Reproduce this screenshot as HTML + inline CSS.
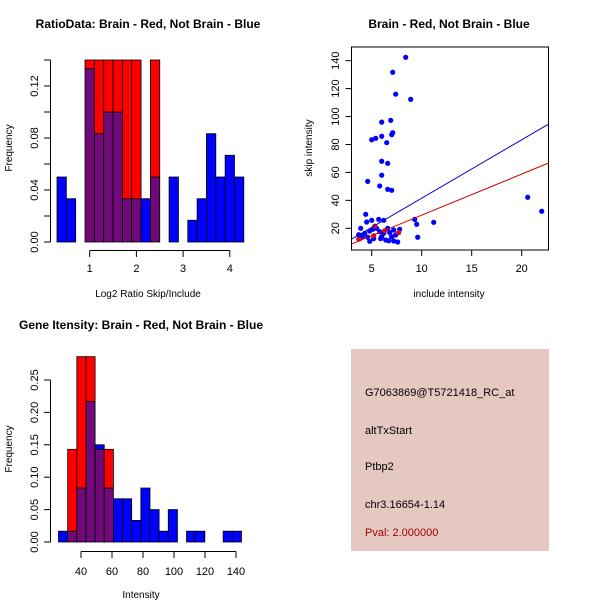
<!DOCTYPE html>
<html><head><meta charset="utf-8">
<style>
html,body{margin:0;padding:0;background:#fff;}
svg{display:block;font-family:"Liberation Sans",Arial,sans-serif;}
</style></head>
<body>
<svg id="c" width="600" height="600" viewBox="0 0 600 600">
<rect x="351" y="349" width="198" height="202" fill="#e6c8c2"/>
<text x="365" y="396" font-size="11">G7063869@T5721418_RC_at</text>
<text x="365" y="434" font-size="11">altTxStart</text>
<text x="365" y="470" font-size="11">Ptbp2</text>
<text x="365" y="508" font-size="11">chr3.16654-1.14</text>
<text x="365" y="536" font-size="11" fill="#a00000">Pval: 2.000000</text>
</svg>
<script>
// ---- Panel 1: ratio histogram ----
const ratioBreakStart = 0.3, ratioBinWidth = 0.2;
const ratioBlue = [0.05,0.0333,0,0.1333,0.0833,0.1,0.1,0.0333,0.0333,0.0333,0.05,0,0.05,0,0.0167,0.0333,0.0833,0.05,0.0667,0.05];
const ratioRed  = [0,0,0,0.143,0.143,0.143,0.143,0.143,0.143,0,0.143,0,0,0,0,0,0,0,0,0];
const ratioYTicks = [0,0.02,0.04,0.06,0.08,0.10,0.12,0.14];
const ratioYLabels = ["0.00","0.04","0.08","0.12"];
const ratioXTicks = [1,2,3,4];
// ---- Panel 2: scatter ----
const includeBlue = [8.4,7.1,7.4,8.9,6.0,6.9,5.0,5.4,6.0,6.5,7.1,7.0,6.0,6.6,6.0,4.6,5.8,6.6,7.0,4.4,4.5,5.0,5.7,6.2,3.9,3.7,4.1,4.8,5.1,5.5,5.8,6.2,6.6,6.8,7.2,7.8,9.3,9.5,11.2,9.6,4.6,4.8,5.2,5.9,6.4,6.7,7.2,7.6,3.8,4.3,6.0,7.0,7.4,20.6,22.0];
const skipBlue = [142.4,131.7,116,112.3,96,97.3,83.4,84.4,85.9,81.3,88.4,87,68,66.5,58,53.6,50.3,47.9,47.2,30,24.5,25.7,26.4,25.7,20,15.4,14.5,18,19.3,20,17.6,16.4,20,16.9,18.8,19.3,26.4,22.9,24.3,13.6,13.6,10.7,12.6,12.6,11.6,11.1,10.9,10.2,12.6,16.4,14,14,15.2,42.2,32.2];
const includeRed = [3.7,5.3,6.3,7.7,5.2];
const skipRed = [12.3,21.6,18.3,16.9,14.7];
const fitBlue = [-0.24,4.18]; // intercept, slope
const fitRed = [0.0,2.94];
const scatXTicks = [5,10,15,20];
const scatYTicks = [20,40,60,80,100,120,140];
// ---- Panel 3: intensity histogram ----
const intBreakStart = 25.5, intBinWidth = 5.9;
const intBlue = [0.0167,0.0167,0.0833,0.2167,0.15,0.0833,0.0667,0.0667,0.0333,0.0833,0.05,0.0167,0.05,0,0.0167,0.0167,0,0,0.0167,0.0167];
const intRed  = [0,0.143,0.286,0.286,0.143,0.143,0,0,0,0,0,0,0,0,0,0,0,0,0,0];
const intYTicks = [0,0.05,0.10,0.15,0.20,0.25];
const intYLabels = ["0.00","0.05","0.10","0.15","0.20","0.25"];
const intXTicks = [40,60,80,100,120,140];

const svg = document.getElementById('c');
const NS = 'http://www.w3.org/2000/svg';
function mk(tag, attrs, parent){const e=document.createElementNS(NS,tag);for(const k in attrs)e.setAttribute(k,attrs[k]);(parent||svg).appendChild(e);return e;}
function txt(x,y,s,size,opts){const e=mk('text',Object.assign({x:x,y:y,'font-size':size,'text-anchor':'middle'},opts||{}));e.textContent=s;return e;}
const RED='#ff0000', BLUE='#0000ff', PURP='#700a78';

function hist(xs, ys, start, w, blue, red, yMaxClip, prefix){
  const clipTop = ys(yMaxClip);
  for(let i=0;i<blue.length;i++){
    const x0=xs(start+i*w), x1=xs(start+(i+1)*w);
    const b=blue[i], r=red[i];
    const parts=[];
    const lo=Math.min(b,r), hi=Math.max(b,r);
    if(lo>0) parts.push([0,lo,PURP]);
    if(hi>lo) parts.push([lo,hi,b>r?BLUE:RED]);
    for(const p of parts){
      const yt=Math.max(ys(p[1]),clipTop), yb=ys(p[0]);
      const e=mk('rect',{x:x0,y:yt,width:x1-x0,height:yb-yt,fill:p[2],stroke:'#000','stroke-width':0.8});
      
      
    }
  }
}

// Panel 1
{
  const xs=v=>89.7+(v-1)*46.7, ys=v=>242-v*1300;
  hist(xs,ys,ratioBreakStart,ratioBinWidth,ratioBlue,ratioRed,0.14,'ratio');
  mk('line',{x1:50.5,x2:50.5,y1:ys(0),y2:ys(0.14),stroke:'#000'});
  ratioYTicks.forEach(t=>mk('line',{x1:44,x2:50.5,y1:ys(t),y2:ys(t),stroke:'#000'}));
  ratioYLabels.forEach(l=>{const y=ys(parseFloat(l));const e=txt(38,y,l,11,{transform:`rotate(-90 38 ${y})`});});
  mk('line',{x1:xs(1),x2:xs(4),y1:250.5,y2:250.5,stroke:'#000'});
  ratioXTicks.forEach(t=>{mk('line',{x1:xs(t),x2:xs(t),y1:250.5,y2:257,stroke:'#000'});const e=txt(xs(t),272,String(t),11);});
  let e=txt(148,28,'RatioData: Brain - Red, Not Brain - Blue',12,{'font-weight':'bold'});
  e=txt(148,297,'Log2 Ratio Skip/Include',10);
  e=txt(12,148,'Frequency',10,{transform:'rotate(-90 12 148)'});
}
// Panel 2
{
  const xs=v=>371.7+(v-5)*10, ys=v=>228.3-(v-20)*1.397;
  const L=351.5,R=548.5,T=47,B=250;
  const cp=mk('clipPath',{id:'sc'});mk('rect',{x:L,y:T,width:R-L,height:B-T},cp);
  includeBlue.forEach((v,i)=>{const c=mk('circle',{cx:xs(v),cy:ys(skipBlue[i]),r:2.6,fill:BLUE});});
  includeRed.forEach((v,i)=>{const c=mk('circle',{cx:xs(v),cy:ys(skipRed[i]),r:2.6,fill:'#d01020'});});
  [[fitBlue,'#0000cc','fit-line-not-brain'],[fitRed,'#cc0000','fit-line-brain']].forEach(f=>{
    const x0=3,x1=22.7;
    const l=mk('line',{x1:xs(x0),y1:ys(f[0][0]+f[0][1]*x0),x2:xs(x1),y2:ys(f[0][0]+f[0][1]*x1),stroke:f[1],'stroke-width':1,'clip-path':'url(#sc)'});
    
  });
  const box=mk('rect',{x:L,y:T,width:R-L,height:B-T,fill:'none',stroke:'#000'});
  scatXTicks.forEach(t=>{mk('line',{x1:xs(t),x2:xs(t),y1:B,y2:B+6,stroke:'#000'});const e=txt(xs(t),272,String(t),11);});
  scatYTicks.forEach(t=>{mk('line',{x1:L-6,x2:L,y1:ys(t),y2:ys(t),stroke:'#000'});const y=ys(t);const e=txt(339,y,String(t),11,{transform:`rotate(-90 339 ${y})`});});
  let e=txt(449,28,'Brain - Red, Not Brain - Blue',12,{'font-weight':'bold'});
  e=txt(449,297,'include intensity',10);
  e=txt(312,148,'skip intensity',10,{transform:'rotate(-90 312 148)'});
}
// Panel 3
{
  const xs=v=>81+(v-40)*1.55, ys=v=>542-v*648;
  hist(xs,ys,intBreakStart,intBinWidth,intBlue,intRed,0.3,'intensity');
  mk('line',{x1:50.5,x2:50.5,y1:ys(0),y2:ys(0.25),stroke:'#000'});
  intYTicks.forEach(t=>mk('line',{x1:44,x2:50.5,y1:ys(t),y2:ys(t),stroke:'#000'}));
  intYLabels.forEach(l=>{const y=ys(parseFloat(l));const e=txt(38,y,l,11,{transform:`rotate(-90 38 ${y})`});});
  mk('line',{x1:xs(40),x2:xs(140),y1:551.5,y2:551.5,stroke:'#000'});
  intXTicks.forEach(t=>{mk('line',{x1:xs(t),x2:xs(t),y1:551.5,y2:558,stroke:'#000'});const e=txt(xs(t),575,String(t),11);});
  let e=txt(141,329,'Gene Itensity: Brain - Red, Not Brain - Blue',12,{'font-weight':'bold'});
  e=txt(141,598,'Intensity',10);
  e=txt(12,449,'Frequency',10,{transform:'rotate(-90 12 449)'});
}
</script>
</body></html>
